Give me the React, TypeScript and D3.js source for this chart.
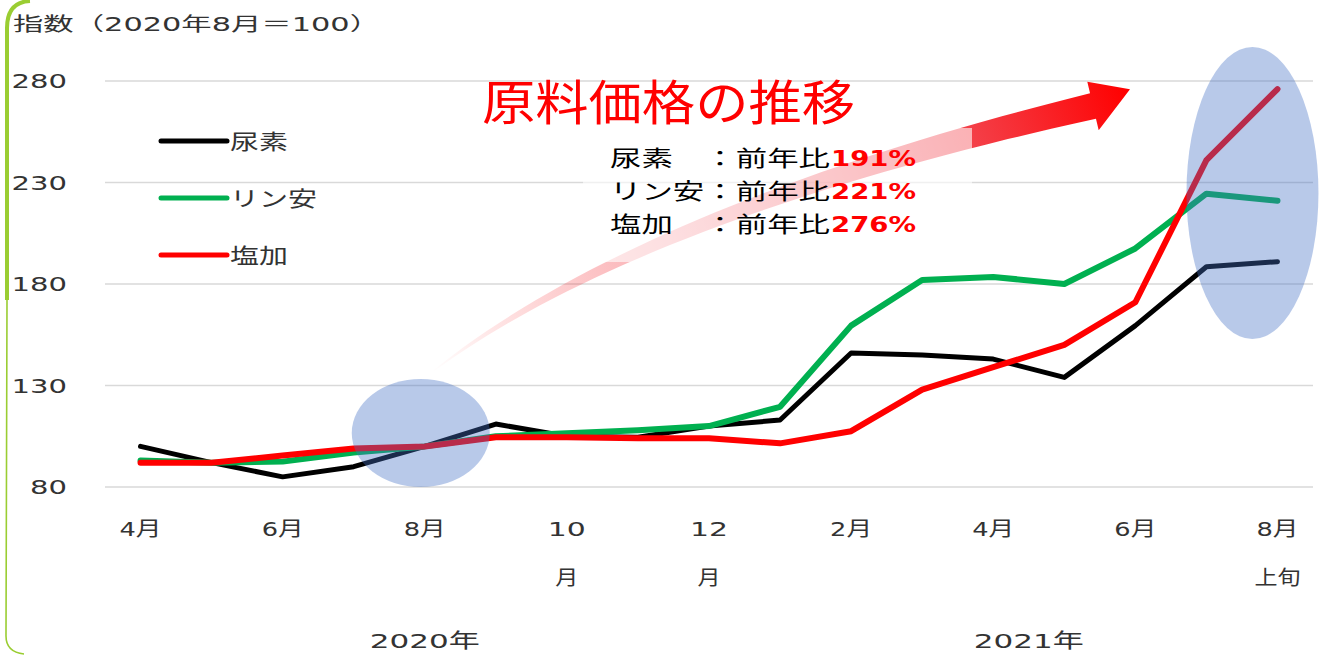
import { useMemo } from 'react';
import * as d3 from 'd3';

// series (2020/8 = 100)
const months = ['4月', '5月', '6月', '7月', '8月', '9月', '10月', '11月', '12月', '1月', '2月', '3月', '4月', '5月', '6月', '7月', '8月上旬'];
const urea = [100, 92, 85, 90, 100, 111, 105, 104.5, 110, 113, 146, 145, 143, 134, 159.5, 188.5, 191];
const phosphate = [93, 92, 92.5, 97, 100, 105, 106.5, 108, 110, 119.5, 159.5, 182, 183.5, 180, 197.5, 224.5, 221];
const potash = [92, 92, 95.5, 99, 100, 104.5, 104.5, 104, 104, 101.5, 107.5, 128, 139, 150, 171, 241, 276];

const seriesNames = ['尿素', 'リン安', '塩加'];
const seriesColors = ['#000000', '#00B050', '#FF0000'];
const yoy = ['191%', '221%', '276%'];
const yoyLabels = ['尿素\u3000：前年比', 'リン安：前年比', '塩加\u3000：前年比'];

const yTicks = [80, 130, 180, 230, 280];
const tickIdx = [0, 2, 4, 6, 8, 10, 12, 14, 16];
const tickText = [['4月'], ['6月'], ['8月'], ['10', '月'], ['12', '月'], ['2月'], ['4月'], ['6月'], ['8月', '上旬']];
const years = ['2020年', '2021年'];
const yearSpan = [[0, 8], [9, 16]];

const W = 1319;
const H = 655;
const FONT = '"DejaVu Sans", "Noto Sans CJK JP", sans-serif';
const JP = '"Noto Sans CJK JP", sans-serif';
const LABEL = '#333333';

// the original is stretched horizontally, so widths are forced
function estWidth(s: string) {
  let w = 0;
  for (const ch of s) w += /[0-9%]/.test(ch) ? 19 : 23;
  return w;
}

export default function App() {
  const keys = months.map((_, i) => String(i));
  const x = d3.scaleBand().domain(keys).range([105, 1313]).padding(0);
  const cx = (i: number) => (x(String(i)) as number) + x.bandwidth() / 2;
  const y = d3.scaleLinear().domain([80, 280]).range([487, 81]);

  const line = d3
    .line<number>()
    .x((_, i) => cx(i))
    .y((d) => y(d));

  const all = [urea, phosphate, potash];

  // curved arrow: quadratic centerline, width growing toward the head
  const arrow = useMemo(() => {
    const p0 = [432, 372], p1 = [640, 212], p2 = [1093, 106];
    const n = 40;
    const left: [number, number][] = [];
    const right: [number, number][] = [];
    for (let k = 0; k <= n; k++) {
      const t = k / n;
      const px = (1 - t) ** 2 * p0[0] + 2 * t * (1 - t) * p1[0] + t * t * p2[0];
      const py = (1 - t) ** 2 * p0[1] + 2 * t * (1 - t) * p1[1] + t * t * p2[1];
      const tx = 2 * (1 - t) * (p1[0] - p0[0]) + 2 * t * (p2[0] - p1[0]);
      const ty = 2 * (1 - t) * (p1[1] - p0[1]) + 2 * t * (p2[1] - p1[1]);
      const len = Math.hypot(tx, ty);
      const nx = -ty / len, ny = tx / len;
      const w = 0.5 + 12.5 * t;
      left.push([px - nx * w, py - ny * w]);
      right.push([px + nx * w, py + ny * w]);
    }
    const tx = p2[0] - p1[0], ty = p2[1] - p1[1];
    const len = Math.hypot(tx, ty);
    const ux = tx / len, uy = ty / len;
    const nx = -uy, ny = ux;
    const tip: [number, number] = [p2[0] + ux * 38, p2[1] + uy * 38 - 8];
    const hw = 25;
    const h1: [number, number] = [p2[0] - nx * hw, p2[1] - ny * hw];
    const h2: [number, number] = [p2[0] + nx * hw, p2[1] + ny * hw];
    const pts = [...left, h1, tip, h2, ...right.reverse()];
    return 'M' + pts.map((p) => p.join(',')).join('L') + 'Z';
  }, []);

  return (
    <svg
      width={W}
      height={H}
      style={{ position: 'absolute', left: 0, top: 0, background: '#fff' }}
      fontFamily={FONT}
    >
      <defs>
        <linearGradient id="arrowGrad" gradientUnits="userSpaceOnUse" x1={432} y1={372} x2={1128} y2={90}>
          <stop offset="0" stopColor="#FF0000" stopOpacity={0} />
          <stop offset="0.35" stopColor="#F0303C" stopOpacity={0.38} />
          <stop offset="0.75" stopColor="#F0202C" stopOpacity={0.82} />
          <stop offset="1" stopColor="#FF0000" stopOpacity={1} />
        </linearGradient>
      </defs>

      {/* frame */}
      <path d="M 30 1 Q 7 2 7 28 L 7 300" fill="none" stroke="#9ACD32" strokeWidth={4} />
      <path d="M 7 300 L 6 636 Q 6 652 24 654" fill="none" stroke="#9ACD32" strokeWidth={1.6} />

      <text x={13} y={31} fontSize={19} fill={LABEL} textLength={367} lengthAdjust="spacingAndGlyphs">
        指数（2020年8月＝100）
      </text>

      {/* grid + y labels */}
      {yTicks.map((t) => (
        <g key={t}>
          <line x1={105} x2={1313} y1={y(t)} y2={y(t)} stroke="#D9D9D9" strokeWidth={1.5} />
          <text
            x={67}
            y={y(t) + 7}
            fontSize={19}
            fill={LABEL}
            textAnchor="end"
            textLength={String(t).length * 18.5}
            lengthAdjust="spacingAndGlyphs"
          >
            {t}
          </text>
        </g>
      ))}

      {/* arrow behind text box */}
      <path d={arrow} fill="url(#arrowGrad)" />
      <rect x={583} y={128} width={389} height={134} fill="#fff" opacity={0.6} />

      {/* x labels */}
      {tickIdx.map((i, k) =>
        tickText[k].map((s, j) => (
          <text
            key={`${i}-${j}`}
            x={cx(i)}
            y={536 + j * 49}
            fontSize={20}
            fill={LABEL}
            textAnchor="middle"
            textLength={estWidth(s)}
            lengthAdjust="spacingAndGlyphs"
          >
            {s}
          </text>
        ))
      )}
      {years.map((s, k) => (
        <text
          key={s}
          x={(cx(yearSpan[k][0]) + cx(yearSpan[k][1])) / 2}
          y={648}
          fontSize={20}
          fill={LABEL}
          textAnchor="middle"
          textLength={110}
          lengthAdjust="spacingAndGlyphs"
        >
          {s}
        </text>
      ))}

      {/* series */}
      {all.map((s, k) => (
        <path
          key={k}
          d={line(s) ?? ''}
          fill="none"
          stroke={seriesColors[k]}
          strokeWidth={k === 0 ? 5 : 6}
          strokeLinejoin="round"
          strokeLinecap="round"
        />
      ))}

      {/* highlight ellipses */}
      <ellipse cx={cx(4) - 4} cy={433} rx={69} ry={54} fill="#4472C4" opacity={0.38} />
      <ellipse cx={cx(16) - 25} cy={193} rx={66} ry={146} fill="#4472C4" opacity={0.38} />

      {/* legend */}
      {seriesNames.map((name, k) => (
        <g key={name} transform={`translate(0, ${141 + k * 57})`}>
          <line x1={161} x2={227} y1={0} y2={0} stroke={seriesColors[k]} strokeWidth={5} strokeLinecap="round" />
          <text
            x={230}
            y={8}
            fontSize={21}
            fontFamily={JP}
            fill={LABEL}
            textLength={name.length * 29}
            lengthAdjust="spacingAndGlyphs"
          >
            {name}
          </text>
        </g>
      ))}

      {/* title */}
      <text
        x={482}
        y={120}
        fontSize={48}
        fontFamily={JP}
        fill="#FF0000"
        textLength={373}
        lengthAdjust="spacingAndGlyphs"
      >
        原料価格の推移
      </text>

      {/* year-on-year notes */}
      {yoyLabels.map((s, k) => (
        <g key={s}>
          <text
            x={610}
            y={166 + k * 33}
            fontSize={22}
            fontFamily={JP}
            fill="#000"
            textLength={220}
            lengthAdjust="spacingAndGlyphs"
          >
            {s}
          </text>
          <text
            x={831}
            y={166 + k * 33}
            fontSize={22}
            fontWeight="bold"
            fill="#FF0000"
            textLength={85}
            lengthAdjust="spacingAndGlyphs"
          >
            {yoy[k]}
          </text>
        </g>
      ))}
    </svg>
  );
}
